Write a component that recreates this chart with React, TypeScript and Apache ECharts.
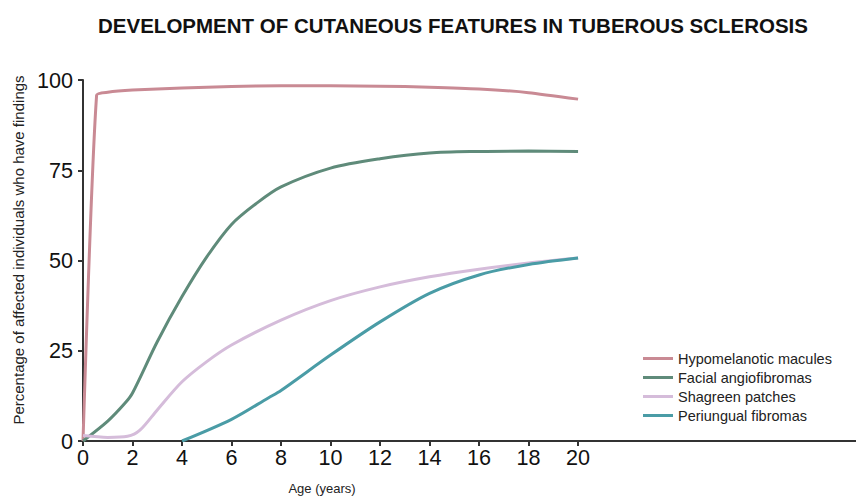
import React, { useEffect, useRef } from "react";
import * as echarts from "echarts";

const titleText = "DEVELOPMENT OF CUTANEOUS FEATURES IN TUBEROUS SCLEROSIS";
const xTicks = [0, 2, 4, 6, 8, 10, 12, 14, 16, 18, 20];
const yTicks = [0, 25, 50, 75, 100];

const seriesNames = [
  "Hypomelanotic macules",
  "Facial angiofibromas",
  "Shagreen patches",
  "Periungual fibromas",
];
const seriesColors = ["#C98A94", "#5F8B7A", "#D5BCDA", "#4A9CA6"];

const hypomelanotic: [number, number][] = [
  [0, 0], [0.55, 95.8], [1, 96.6], [2, 97.2], [4, 97.8], [6, 98.2],
  [8, 98.4], [10, 98.4], [12, 98.3], [14, 98], [16, 97.5], [18, 96.5], [20, 94.7],
];
const facial: [number, number][] = [
  [0, 0], [1, 5.5], [1.7, 10.5], [2, 13.3], [3, 27.5], [4, 40], [5, 51],
  [6, 60], [7, 65.8], [8, 70.4], [10, 75.6], [12, 78.2], [14, 79.8], [16, 80.2], [18, 80.3], [20, 80.2],
];
const shagreen: [number, number][] = [
  [0, 1.5], [1, 1], [1.8, 1.3], [2.3, 3], [3, 8.6], [4, 16.4], [5, 22], [6, 26.6],
  [8, 33.5], [10, 38.9], [12, 42.7], [14, 45.5], [16, 47.6], [18, 49.3], [20, 50.7],
];
const periungual: [number, number][] = [
  [4, 0], [6, 6], [7.5, 12], [8, 14], [10, 23.8], [12, 33], [14, 40.9], [16, 46],
  [18, 48.9], [20, 50.7],
];
const seriesData = [hypomelanotic, facial, shagreen, periungual];

export default function App() {
  const ref = useRef<HTMLDivElement>(null);
  useEffect(() => {
    if (!ref.current) return;
    const chart = echarts.init(ref.current, undefined, { renderer: "svg" });
    const font = "Liberation Sans, Arial, sans-serif";
    chart.setOption({
      animation: false,
      textStyle: { fontFamily: font },
      title: {
        text: titleText,
        left: 440,
        textAlign: "center",
        top: 2,
        textStyle: { fontSize: 20.5, fontWeight: "bold", color: "#111", fontFamily: font },
      },
      grid: { left: 75, right: 2, top: 72, bottom: 55, containLabel: false },
      legend: {
        orient: "vertical",
        left: 630,
        top: 338,
        itemWidth: 30,
        itemHeight: 3,
        itemGap: 4,
        icon: "rect",
        textStyle: { fontSize: 14.5, color: "#222", fontFamily: font },
        data: seriesNames,
      },
      xAxis: {
        type: "value",
        min: 0,
        max: 31.47,
        axisLine: { lineStyle: { color: "#333", width: 2 } },
        axisTick: { show: true, length: 5, customValues: xTicks, lineStyle: { color: "#333", width: 2 } },
        axisLabel: { customValues: xTicks, fontSize: 21.6, color: "#111", margin: 5, fontFamily: font },
        splitLine: { show: false },
      },
      yAxis: {
        type: "value",
        min: 0,
        max: 100,
        interval: 25,
        axisLine: { show: true, lineStyle: { color: "#333", width: 2 } },
        axisTick: { show: true, length: 5, lineStyle: { color: "#333", width: 2 } },
        axisLabel: { fontSize: 21.6, color: "#111", margin: 10, fontFamily: font },
        splitLine: { show: false },
      },
      graphic: [
        {
          type: "text",
          x: 10,
          y: 242,
          rotation: Math.PI / 2,
          style: {
            text: "Percentage of affected individuals who have findings",
            fontSize: 15,
            fill: "#222",
            fontFamily: font,
            align: "center",
            verticalAlign: "middle",
          },
        },
        {
          type: "text",
          x: 314,
          y: 480,
          style: {
            text: "Age (years)",
            fontSize: 13,
            fill: "#222",
            fontFamily: font,
            align: "center",
            verticalAlign: "middle",
          },
        },
      ],
      series: seriesNames.map((name, i) => ({
        name,
        type: "line",
        data: seriesData[i],
        smooth: i === 0 ? 0.2 : 0.3,
        showSymbol: false,
        symbol: "none",
        lineStyle: { color: seriesColors[i], width: 3 },
        itemStyle: { color: seriesColors[i] },
      })),
    });
    return () => chart.dispose();
  }, []);
  return <div ref={ref} style={{ width: 856, height: 488 }} />;
}
